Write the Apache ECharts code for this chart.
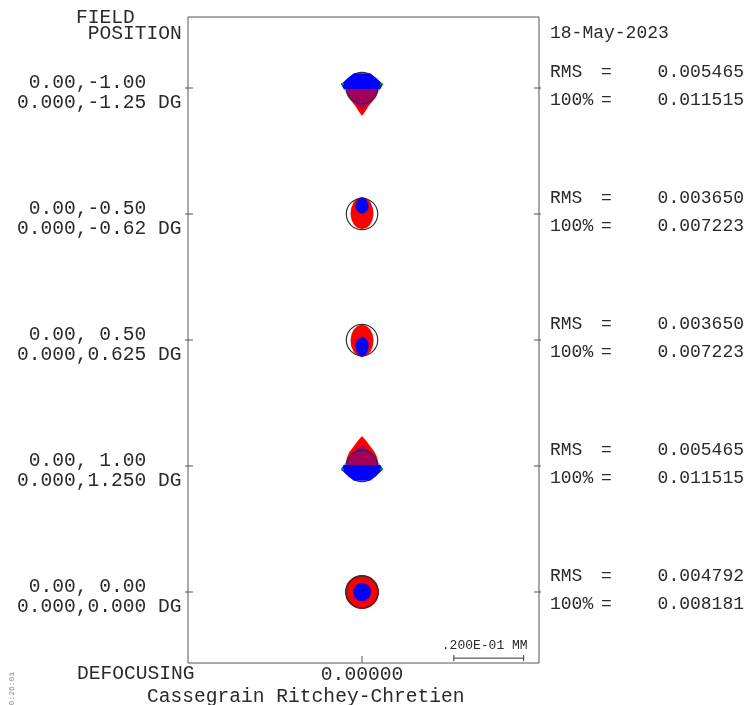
<!DOCTYPE html>
<html><head><meta charset="utf-8">
<script src="https://cdn.jsdelivr.net/npm/echarts@6/dist/echarts.min.js"></script>
<style>html,body{margin:0;padding:0;background:#fff;}#chart{width:747px;height:705px;}</style>
</head><body><div id="chart"></div>
<script>
// ---- data (micrometres on the image plane) ----
const fieldY = [144, 108, 72, 36, 0];            // stacked spot centres
const fieldLine1 = ' 0.00,-1.00| 0.00,-0.50| 0.00, 0.50| 0.00, 1.00| 0.00, 0.00'.split('|');
const fieldLine2 = ['0.000,-1.25 DG', '0.000,-0.62 DG', '0.000,0.625 DG', '0.000,1.250 DG', '0.000,0.000 DG'];
const rmsValues = ['0.005465', '0.003650', '0.003650', '0.005465', '0.004792'];
const maxValues = ['0.011515', '0.007223', '0.007223', '0.011515', '0.008181'];
const airyRadius = 4.5;
const xRange = [-49.86, 50.71];
const yRange = [-20.29, 164.29];

const redM100 = [[-4.6,1.2],[4.6,1.2],[4.6,-1.1],[4.1,-2.4],[3.2,-3.6],[2.0,-5.0],[1.0,-6.6],[0,-8.0],[-1.0,-6.6],[-2.0,-5.0],[-3.2,-3.6],[-4.1,-2.4],[-4.6,-1.1]];
const blueM100 = [[-2.3,4.2],[2.3,4.2],[4.0,2.9],[6.0,1.1],[5.1,-0.6],[2.9,-3.4],[0,-6.3],[-2.9,-3.4],[-5.1,-0.6],[-6.0,1.1],[-4.0,2.9]];
const greenM100 = [[-5.6,1.1],[5.6,1.1]];

const redM050 = [[0,4.9],[1.4,4.4],[2.4,3.4],[3.1,1.7],[3.3,0],[3.0,-1.7],[2.3,-3.1],[1.3,-4.0],[0,-4.3],[-1.3,-4.0],[-2.3,-3.1],[-3.0,-1.7],[-3.3,0],[-3.1,1.7],[-2.4,3.4],[-1.4,4.4]];
const blueM050 = [[0,4.6],[0.9,4.4],[1.4,3.7],[1.9,2.6],[1.9,1.7],[1.4,0.9],[0.7,0.3],[0,0.1],[-0.7,0.3],[-1.4,0.9],[-1.9,1.7],[-1.9,2.6],[-1.4,3.7],[-0.9,4.4]];

const redP050 = [[0,-4.9],[1.4,-4.4],[2.4,-3.4],[3.1,-1.7],[3.3,0],[3.0,1.7],[2.3,3.1],[1.3,4.0],[0,4.4],[-1.3,4.0],[-2.3,3.1],[-3.0,1.7],[-3.3,0],[-3.1,-1.7],[-2.4,-3.4],[-1.4,-4.4]];
const blueP050 = [[0,0.9],[0.7,0.6],[1.4,0],[1.9,-1.0],[1.9,-2.0],[1.5,-3.3],[0.9,-4.4],[0,-4.8],[-0.9,-4.4],[-1.5,-3.3],[-1.9,-2.0],[-1.9,-1.0],[-1.4,0],[-0.7,0.6]];

const redP100 = [[-4.6,-1.2],[4.6,-1.2],[4.6,1.1],[4.3,2.5],[3.6,4.0],[2.4,5.6],[1.2,7.2],[0,8.6],[-1.2,7.2],[-2.4,5.6],[-3.6,4.0],[-4.3,2.5],[-4.6,1.1]];
const blueP100 = [[-2.3,-4.2],[2.3,-4.2],[4.0,-2.9],[6.0,-1.0],[5.1,0.6],[2.9,3.4],[0,6.1],[-2.9,3.4],[-5.1,0.6],[-6.0,-1.0],[-4.0,-2.9]];
const greenP100 = [[-5.6,-1.0],[5.6,-1.0]];

const redRadius0 = 4.7;
const blueRadius0 = 2.6;

const redShapes = [redM100, redM050, redP050, redP100, null];
const blueShapes = [blueM100, blueM050, blueP050, blueP100, null];
const greenShapes = [greenM100, [], [], greenP100, []];
const blueHatchSplit = [-0.4, null, null, 0.4, null];   // y where dense blue turns into mixed red/blue
const blueSolidSide = ['above', null, null, 'below', null];

const scaleBarStart = [26.3, -18.9];
const scaleBarLength = 20;          // 0.02 mm
const scaleBarLabel = '.200E-01 MM';
const defocusValue = 0;

const FONT = '"Liberation Mono", "DejaVu Sans Mono", monospace';
const TXT = '#2a2a2a';

const chart = echarts.init(document.getElementById('chart'), null, {renderer: 'canvas'});

function blueFill(i, pts) {
  const split = blueHatchSplit[i];
  if (split == null) return '#0000ff';
  const ys = pts.map(p => p[1]);
  const top = Math.max(...ys), bot = Math.min(...ys);
  const off = (top - split) / (top - bot);
  const solid = '#0000ff', mixed = 'rgba(0,0,255,0.36)';
  const a = blueSolidSide[i] === 'above' ? solid : mixed;
  const b = blueSolidSide[i] === 'above' ? mixed : solid;
  return new echarts.graphic.LinearGradient(0, 0, 0, 1, [
    {offset: 0, color: a}, {offset: off, color: a},
    {offset: off, color: b}, {offset: 1, color: b}
  ]);
}

const tickLine = (a, b, c2, d) => ({type: 'line', shape: {x1: a, y1: b, x2: c2, y2: d}, style: {stroke: '#555', lineWidth: 1}});

function renderSpot(params, api) {
  const i = api.value(2);
  const cy = fieldY[i];
  const pt = p => api.coord([p[0], cy + p[1]]);
  const c = api.coord([0, cy]);
  const lft = api.coord([xRange[0], cy]), rgt = api.coord([xRange[1], cy]);
  const children = [
    tickLine(lft[0] - 3, lft[1], lft[0] + 5, lft[1]),
    tickLine(rgt[0] - 5, rgt[1], rgt[0] + 2, rgt[1])
  ];
  if (redShapes[i]) {
    children.push({type: 'polygon', shape: {points: redShapes[i].map(pt)}, style: {fill: '#ff0000'}});
  } else {
    children.push({type: 'circle', shape: {cx: c[0], cy: c[1], r: api.size([redRadius0, 0])[0]},
      style: {fill: '#ff0000', stroke: '#a00000', lineWidth: 1.2}});
  }
  children.push({type: 'circle', shape: {cx: c[0], cy: c[1], r: api.size([airyRadius, 0])[0]},
    style: {fill: 'none', stroke: '#333333', lineWidth: 1.2}});
  if (blueShapes[i]) {
    children.push({type: 'polygon', shape: {points: blueShapes[i].map(pt)}, style: {fill: blueFill(i, blueShapes[i])}});
  } else {
    children.push({type: 'circle', shape: {cx: c[0], cy: c[1], r: api.size([blueRadius0, 0])[0]}, style: {fill: '#0000ff'}});
  }
  greenShapes[i].forEach(p => {
    const q = pt(p);
    children.push({type: 'rect', shape: {x: q[0] - 1.5, y: q[1] - 1, width: 3, height: 2}, style: {fill: '#00a000'}});
  });
  return {type: 'group', children};
}

function renderScale(params, api) {
  const x0 = api.value(0), y0 = api.value(1), len = api.value(2);
  const p0 = api.coord([x0, y0]), p1 = api.coord([x0 + len, y0]);
  const bt = api.coord([defocusValue, yRange[0]]);
  const ln = (a, b, c, d) => ({type: 'line', shape: {x1: a, y1: b, x2: c, y2: d}, style: {stroke: '#333', lineWidth: 1}});
  return {type: 'group', children: [
    ln(p0[0], p0[1], p1[0], p1[1]),
    ln(p0[0], p0[1] - 3, p0[0], p0[1] + 3),
    ln(p1[0], p1[1] - 3, p1[0], p1[1] + 3),
    tickLine(bt[0], bt[1], bt[0], bt[1] - 7),
    {type: 'text', x: (p0[0] + p1[0]) / 2 - 4, y: p0[1] - 13,
      style: {text: scaleBarLabel, font: '13px ' + FONT, fill: TXT, align: 'center', verticalAlign: 'middle', textAlign: 'center', textVerticalAlign: 'middle'}}
  ]};
}

const labelIdx = v => fieldY.indexOf(Math.round(v));
const L = {fontFamily: FONT, fontSize: 19.6, lineHeight: 19.5, color: TXT};
const R = {fontFamily: FONT, fontSize: 18, lineHeight: 28, color: TXT};

const option = {
  animation: false,
  backgroundColor: '#fff',
  grid: {left: 188, top: 17, width: 352, height: 646, show: true, borderColor: '#555', borderWidth: 1, backgroundColor: 'transparent'},
  xAxis: {
    type: 'value', min: xRange[0], max: xRange[1],
    axisLine: {show: false}, splitLine: {show: false}, axisTick: {show: false},
    axisLabel: {show: true, customValues: [defocusValue], margin: 2, formatter: () => '0.00000',
      fontFamily: FONT, fontSize: 19.6, lineHeight: 20, color: TXT}
  },
  yAxis: [{
    type: 'value', min: yRange[0], max: yRange[1], position: 'left',
    axisLine: {show: false}, splitLine: {show: false}, axisTick: {show: false},
    axisLabel: {show: true, customValues: fieldY, margin: 171, align: 'left', verticalAlign: 'middle',
      fontFamily: FONT, fontSize: 19.6, color: TXT,
      rich: {p: {fontSize: 1, lineHeight: 9.6}, a: L},
      formatter: v => { const i = labelIdx(v); return '{p| }\n{a|' + fieldLine1[i] + '}\n{a|' + fieldLine2[i] + '}'; }}
  }, {
    type: 'value', min: yRange[0], max: yRange[1], position: 'right',
    axisLine: {show: false}, splitLine: {show: false}, axisTick: {show: false},
    axisLabel: {show: true, customValues: fieldY, margin: 11, align: 'left', verticalAlign: 'middle',
      fontFamily: FONT, fontSize: 18, color: TXT,
      rich: {
        k: Object.assign({width: 51}, R),
        e: Object.assign({width: 12}, R),
        v: Object.assign({width: 131, align: 'right'}, R),
        p: {fontSize: 1, lineHeight: 4}
      },
      formatter: v => { const i = labelIdx(v);
        return '{k|RMS}{e|=}{v|' + rmsValues[i] + '}\n{k|100%}{e|=}{v|' + maxValues[i] + '}\n{p| }'; }}
  }],
  series: [{
    type: 'custom', coordinateSystem: 'cartesian2d', xAxisIndex: 0, yAxisIndex: 0,
    encode: {x: 0, y: 1}, renderItem: renderSpot, silent: true, clip: false,
    data: fieldY.map((y, i) => [0, y, i])
  }, {
    type: 'custom', coordinateSystem: 'cartesian2d', xAxisIndex: 0, yAxisIndex: 0,
    encode: {x: 0, y: 1}, renderItem: renderScale, silent: true, clip: false,
    data: [[scaleBarStart[0], scaleBarStart[1], scaleBarLength]]
  }],
  graphic: [
    {type: 'text', x: 76, y: 18, style: {text: 'FIELD', font: '19.6px ' + FONT, fill: TXT, verticalAlign: 'middle', textVerticalAlign: 'middle'}},
    {type: 'text', x: 76, y: 34, style: {text: ' POSITION', font: '19.6px ' + FONT, fill: TXT, verticalAlign: 'middle', textVerticalAlign: 'middle'}},
    {type: 'text', x: 550, y: 33, style: {text: '18-May-2023', font: '18px ' + FONT, fill: TXT, verticalAlign: 'middle', textVerticalAlign: 'middle'}},
    {type: 'text', x: 77, y: 674, style: {text: 'DEFOCUSING', font: '19.6px ' + FONT, fill: TXT, verticalAlign: 'middle', textVerticalAlign: 'middle'}},
    {type: 'text', x: 147, y: 697, style: {text: 'Cassegrain Ritchey-Chretien', font: '19.6px ' + FONT, fill: TXT, verticalAlign: 'middle', textVerticalAlign: 'middle'}},
    {type: 'text', x: 12, y: 691, rotation: Math.PI / 2, style: {text: '10:26:01', font: '8px ' + FONT, fill: '#888',
      align: 'center', verticalAlign: 'middle', textAlign: 'center', textVerticalAlign: 'middle'}}
  ]
};
chart.setOption(option);
</script>
</body></html>
